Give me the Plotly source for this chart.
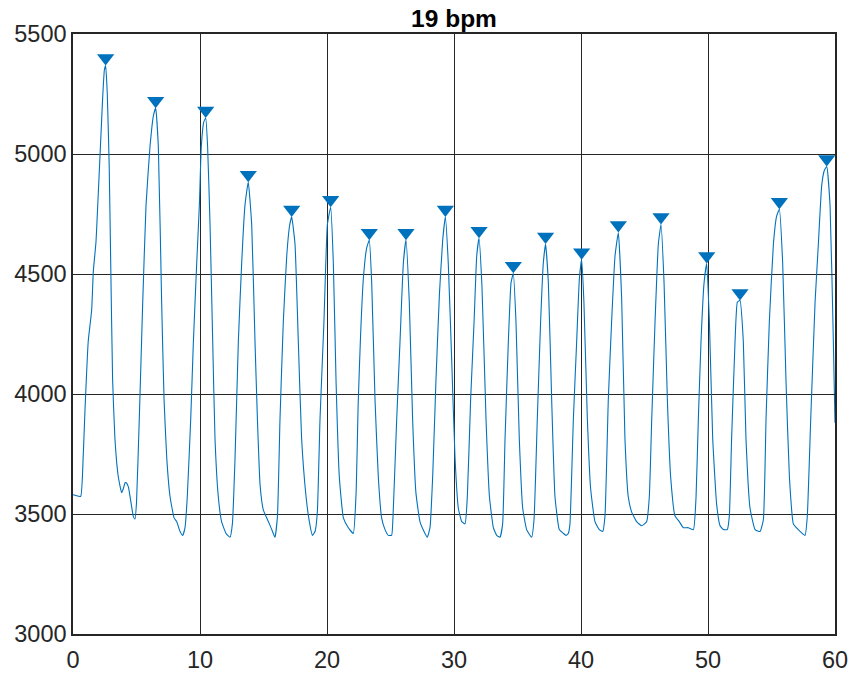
import plotly.graph_objects as go

# Signal samples (time in s, amplitude)
t = [0.0, 0.16, 0.6, 0.8, 0.94, 1.2, 1.47, 1.6, 1.81, 1.92, 2.13, 2.34, 2.47, 2.57,
     2.7, 2.85, 2.97, 3.12, 3.3, 3.57, 3.83, 3.96, 4.1, 4.2, 4.36, 4.54, 4.75, 4.88, 5.0,
     5.22, 5.49, 5.75, 6.06, 6.33, 6.51,
     6.72, 6.98, 7.17, 7.38, 7.64, 7.96, 8.17, 8.43, 8.64, 8.82, 9.0,
     9.27, 9.48, 9.74, 9.95, 10.1, 10.3, 10.45,
     10.6, 10.79, 11.0, 11.18, 11.44, 11.7, 12.05, 12.36, 12.55,
     12.76, 13.02, 13.28, 13.54, 13.8,
     14.07, 14.33, 14.52, 14.73, 14.99, 15.39, 15.65, 15.9, 16.1,
     16.3, 16.56, 16.83, 17.05, 17.22,
     17.48, 17.74, 18.0, 18.35, 18.61, 18.85, 19.06, 19.24,
     19.45, 19.76, 20.03, 20.29,
     20.5, 20.71, 20.97, 21.29, 21.68, 22.07, 22.3,
     22.45, 22.65, 22.86, 23.12, 23.33,
     23.52, 23.78, 24.04, 24.3, 24.57, 24.83, 25.09, 25.2,
     25.49, 25.75, 26.01, 26.22,
     26.48, 26.74, 27.0, 27.32, 27.64, 27.9, 28.11, 28.32,
     28.58, 28.85, 29.11, 29.32,
     29.55, 29.82, 30.08, 30.34, 30.61, 30.87, 31.05,
     31.31, 31.58, 31.79, 31.97,
     32.2, 32.52, 32.79, 33.1, 33.36, 33.62, 33.83,
     34.02, 34.28, 34.49, 34.67,
     34.88, 35.14, 35.41, 35.72, 36.11, 36.3,
     36.56, 36.82, 37.03, 37.21,
     37.43, 37.69, 37.95, 38.29, 38.61, 38.82, 39.0, 39.13,
     39.4, 39.66, 39.87, 40.05,
     40.23, 40.5, 40.76, 41.1, 41.44, 41.71, 41.89,
     42.15, 42.41, 42.68, 42.94,
     43.2, 43.46, 43.72, 43.99, 44.38, 44.78, 45.17, 45.38,
     45.57, 45.83, 46.09, 46.3,
     46.54, 46.8, 47.06, 47.4, 47.74, 48.06, 48.45, 48.85, 49.06,
     49.24, 49.45, 49.69, 49.9,
     50.11, 50.37, 50.68, 50.95, 51.21, 51.52, 51.68,
     51.86, 52.13, 52.31, 52.52,
     52.78, 52.99, 53.31, 53.71, 54.1, 54.36,
     54.57, 54.83, 55.15, 55.4, 55.62,
     55.88, 56.14, 56.41, 56.72, 57.11, 57.64, 57.82,
     58.09, 58.43, 58.69, 58.95, 59.15, 59.35,
     59.61, 59.87, 60.0]

v = [3580, 3578, 3573, 3735, 3929, 4220, 4350, 4511, 4633, 4754, 4997, 5239, 5350, 5369,
     5250, 4950, 4544, 4058, 3816, 3654, 3589, 3605, 3630, 3630, 3613, 3557, 3490, 3479, 3547,
     3897, 4382, 4786, 5029, 5159, 5191,
     5029, 4382, 3977, 3735, 3573, 3484, 3468, 3427, 3411, 3443, 3573,
     3897, 4220, 4544, 4786, 5029, 5134, 5150,
     5029, 4706, 4220, 3816, 3573, 3468, 3419, 3403, 3459,
     3735, 4220, 4544, 4786, 4883,
     4706, 4220, 3897, 3621, 3516, 3468, 3435, 3403, 3492,
     3897, 4301, 4576, 4700, 4738,
     4625, 4220, 3816, 3573, 3468, 3411, 3427, 3508,
     3897, 4301, 4706, 4778,
     4544, 4058, 3654, 3484, 3443, 3419, 3600,
     3950, 4253, 4479, 4608, 4641,
     4463, 3977, 3654, 3484, 3435, 3411, 3411, 3492,
     3897, 4220, 4544, 4641,
     4382, 3897, 3589, 3468, 3427, 3403, 3443, 3654,
     4058, 4414, 4641, 4738,
     4544, 4139, 3735, 3524, 3468, 3459, 3573,
     3977, 4301, 4576, 4649,
     4450, 3897, 3573, 3443, 3411, 3403, 3459,
     3816, 4220, 4463, 4503,
     4301, 3816, 3524, 3435, 3403, 3476,
     3897, 4301, 4544, 4625,
     4463, 3977, 3573, 3435, 3419, 3411, 3419, 3459,
     3897, 4220, 4479, 4560,
     4382, 3897, 3605, 3468, 3435, 3427, 3492,
     3977, 4301, 4576, 4673,
     4400, 3816, 3573, 3508, 3468, 3451, 3468, 3573,
     3897, 4301, 4625, 4706,
     4463, 3977, 3654, 3492, 3468, 3443, 3443, 3435, 3573,
     3897, 4220, 4463, 4544,
     4301, 3816, 3540, 3451, 3435, 3435, 3492,
     3816, 4220, 4382, 4390,
     4220, 3816, 3524, 3435, 3427, 3476,
     3897, 4301, 4625, 4740, 4770,
     4544, 4058, 3654, 3459, 3435, 3411, 3492,
     3897, 4382, 4625, 4867, 4930, 4948,
     4786, 4220, 3880]

# Detected peaks (marker positions as drawn)
peak_t = [2.57, 6.51, 10.45, 13.8, 17.22, 20.29, 23.33, 26.22, 29.32, 31.97,
          34.67, 37.21, 40.05, 42.94, 46.3, 49.9, 52.52, 55.62, 59.35]
peak_marker_y = [5400, 5222, 5181, 4914, 4769, 4809, 4672, 4672, 4769, 4680,
                 4534, 4656, 4591, 4704, 4737, 4575, 4421, 4801, 4979]

x_ticks = [0, 10, 20, 30, 40, 50, 60]
y_ticks = [3000, 3500, 4000, 4500, 5000, 5500]
title_text = "19 bpm"

blue = "#0072BD"
axis_col = "#262626"
font_family = "Liberation Sans, Arial, sans-serif"

fig = go.Figure()
fig.add_trace(go.Scatter(x=t, y=v, mode="lines",
                         line=dict(color=blue, width=1.1, shape="spline", smoothing=0.4),
                         showlegend=False, hoverinfo="skip"))
fig.add_trace(go.Scatter(x=peak_t, y=peak_marker_y, mode="markers",
                         marker=dict(symbol="triangle-down", size=15, color=blue,
                                     line=dict(width=0)),
                         showlegend=False))

fig.update_layout(
    width=851, height=673,
    margin=dict(l=73, r=16, t=34, b=39),
    paper_bgcolor="white", plot_bgcolor="white",
    font=dict(family=font_family, size=23.5, color=axis_col),
    title=dict(text="<b>" + title_text + "</b>", x=0.5, xref="paper",
               xanchor="center", y=1, yref="paper", yanchor="bottom",
               pad=dict(b=7), font=dict(size=24.5, color="black", family=font_family)),
)
fig.update_xaxes(range=[0, 60], tickvals=x_ticks, ticktext=[str(x) for x in x_ticks],
                 showgrid=True, gridcolor=axis_col, gridwidth=1, automargin=False,
                 showline=True, linecolor=axis_col, linewidth=1.5, mirror="ticks",
                 ticks="inside", ticklen=8, tickcolor=axis_col, zeroline=False,
                 ticklabelstandoff=4)
fig.update_yaxes(range=[3000, 5500], tickvals=y_ticks, ticktext=[str(y) for y in y_ticks],
                 showgrid=True, gridcolor=axis_col, gridwidth=1, automargin=False,
                 showline=True, linecolor=axis_col, linewidth=1.5, mirror="ticks",
                 ticks="inside", ticklen=8, tickcolor=axis_col, zeroline=False)

fig.write_html("out.html")
